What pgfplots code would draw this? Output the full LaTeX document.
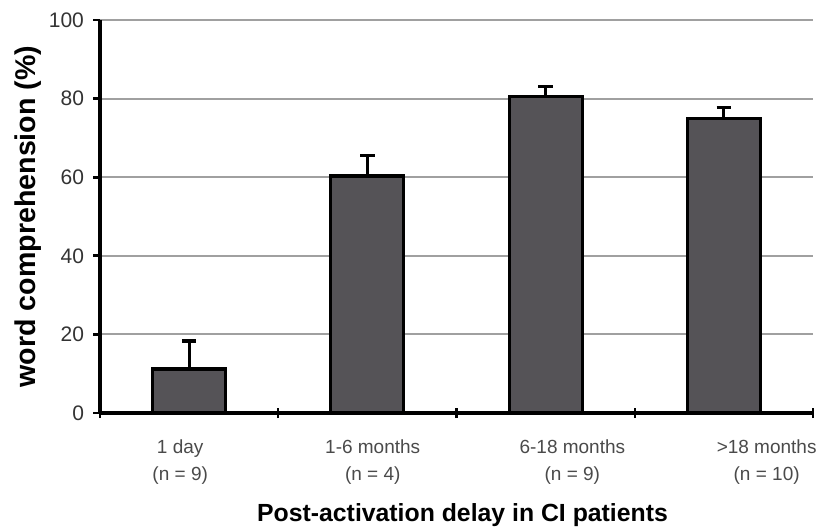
\documentclass[border=0pt]{standalone}
\usepackage{fontspec}
\setmainfont{Liberation Sans}
\usepackage{pgfplots}
\pgfplotsset{compat=1.18}
\definecolor{barfill}{HTML}{555357}
\definecolor{gridgray}{HTML}{A0A0A0}
\definecolor{labgray}{HTML}{4A4A4A}
\begin{document}
\begin{tikzpicture}
\begin{axis}[
    scale only axis,
    width=356.5pt, height=196.5pt,
    ybar, bar width=36.5pt,
    xmin=-0.5, xmax=3.5,
    ymin=0, ymax=100,
    axis x line*=bottom, axis y line*=left,
    axis line style={line width=1.6pt, black, -},
    ytick={0,20,40,60,80,100},
    ymajorgrids,
    major grid style={line width=1pt, gridgray},
    ytick style={line width=1.4pt, black},
    major tick length=3.5pt,
    tick align=outside,
    yticklabel style={font=\fontsize{10.5}{12}\selectfont, text=black!80, xshift=-1pt},
    xtick={-0.05,1.03,2.15,3.24},
    xtick style={draw=none},
    xticklabels={{1 day\\(n = 9)},{1-6 months\\(n = 4)},{6-18 months\\(n = 9)},{>18 months\\(n = 10)}},
    xticklabel style={font=\fontsize{9.5}{13.5}\selectfont, text=labgray, align=center, yshift=-6.5pt},
    extra x ticks={-0.5,0.5,1.5,2.5,3.5},
    extra x tick labels={},
    extra x tick style={xtick style={draw=black, line width=1.2pt}, major tick length=5pt, tick align=center},
    /pgf/number format/assume math mode=true,
    xlabel={\textbf{Post-activation delay in CI patients}},
    xlabel style={font=\fontsize{12.4}{14}\selectfont, at={(axis description cs:0.5,0)}, anchor=base, yshift=-54pt, xshift=3pt},
    ylabel={\textbf{word comprehension (\%)}},
    every axis y label/.style={at={(axis description cs:0,0.5)}, rotate=90, anchor=center, yshift=36pt, font=\fontsize{14.3}{16}\selectfont},
    clip=false,
]
\addplot[fill=barfill, draw=black, line width=1.6pt,
    error bars/.cd, y dir=plus, y explicit,
    error mark=-,
    error bar style={line width=1.6pt, black},
    error mark options={rotate=90, line width=1.6pt, mark size=3.6pt, black}]
  coordinates {
    (0, 11.2) +- (0, 7.1)
    (1, 60.3) +- (0, 5.3)
    (2, 80.6) +- (0, 2.4)
    (3, 74.9) +- (0, 2.8)
  };
\coordinate (ll) at (rel axis cs:0,0);
\coordinate (ur) at (rel axis cs:1,1);
\end{axis}
\pgfresetboundingbox
\path ([xshift=-50pt,yshift=-59pt]ll) rectangle ([xshift=6pt,yshift=10pt]ur);
\end{tikzpicture}
\end{document}
